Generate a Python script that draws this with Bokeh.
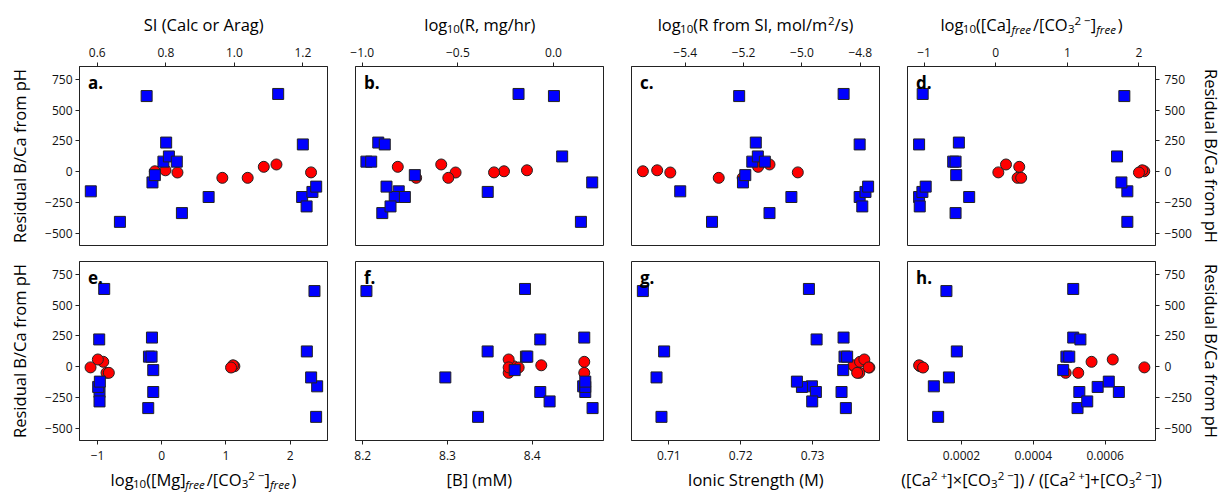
from bokeh.plotting import figure
from bokeh.layouts import column, row
from bokeh.models import Label, FixedTicker, Range1d, CustomJSTickFormatter
from bokeh.embed import file_html
from bokeh.resources import INLINE
from bokeh.core.validation import silence
from bokeh.core.validation.warnings import MISSING_RENDERERS

silence(MISSING_RENDERERS, True)

FONT = "Open Sans"

# ---------------- data ----------------
resid_blue = [-157, -404, 613, -85, -26, 237, 83, 125, 83, -333, -203, 630, 222, -203, -279, -162, -119]
resid_red = [5, 13, -5, -48, -48, 41, 60, -4]

si_blue = [0.581, 0.666, 0.744, 0.761, 0.768, 0.801, 0.793, 0.809, 0.832, 0.847, 0.925, 1.128, 1.200, 1.198, 1.211, 1.228, 1.239]
si_red = [0.768, 0.799, 0.834, 0.965, 1.039, 1.086, 1.123, 1.224]

logR_blue = [-0.809, 0.143, 0.002, 0.202, -0.725, -0.916, -0.978, 0.045, -0.953, -0.895, -0.830, -0.183, -0.882, -0.777, -0.852, -0.344, -0.873]
logR_red = [-0.259, -0.139, -0.512, -0.718, -0.550, -0.814, -0.587, -0.311]

logRsi_blue = [-5.417, -5.308, -5.215, -5.202, -5.194, -5.158, -5.170, -5.151, -5.127, -5.111, -5.036, -4.857, -4.802, -4.802, -4.793, -4.782, -4.773]
logRsi_red = [-5.545, -5.496, -5.451, -5.285, -5.203, -5.150, -5.111, -5.014]

caco3_blue = [1.838, 1.838, 1.796, 1.755, -0.551, -0.514, -0.593, 1.694, -0.560, -0.560, -0.370, -1.019, -1.069, -1.069, -1.060, -1.023, -0.977]
caco3_red = [2.074, 2.046, 2.000, 0.306, 0.356, 0.329, 0.144, 0.037]

mgco3_blue = [2.422, 2.406, 2.380, 2.328, -0.132, -0.152, -0.199, 2.261, -0.158, -0.210, -0.132, -0.896, -0.974, -0.969, -0.969, -0.990, -0.964]
mgco3_red = [1.132, 1.111, 1.080, -0.860, -0.824, -0.911, -0.995, -1.109]

boron_blue = [8.4600, 8.3360, 8.2043, 8.2974, 8.3792, 8.4613, 8.3925, 8.3473, 8.3941, 8.4711, 8.4094, 8.3914, 8.4094, 8.4625, 8.4204, 8.4625, 8.4625]
boron_red = [8.378, 8.4106, 8.3839, 8.3721, 8.4613, 8.4613, 8.3721, 8.3721]

ionic_blue = [0.72991, 0.70898, 0.70639, 0.70829, 0.73426, 0.73431, 0.73444, 0.70935, 0.73481, 0.73463, 0.73046, 0.72949, 0.73056, 0.73403, 0.72995, 0.72852, 0.72782]
ionic_red = [0.7358, 0.7357, 0.7379, 0.7365, 0.7362, 0.7366, 0.7372, 0.7378]

ratio_blue = [0.000123, 0.000135, 0.000158, 0.000165, 0.000483, 0.000511, 0.000492, 0.000187, 0.000500, 0.000523, 0.000638, 0.000511, 0.000531, 0.000528, 0.000550, 0.000579, 0.000610]
ratio_red = [0.000085, 0.000082, 0.000093, 0.000490, 0.000525, 0.000562, 0.000621, 0.000709]

y_ticks = [-500, -250, 0, 250, 500, 750]
y_label = "Residual B/Ca from pH"

MINUS = "\u2212"
CO3 = [("[CO", "n"), ("3", "sub"), ("2 " + MINUS, "sup"), ("]", "n")]

panels = [
    dict(letter="a.", xb=si_blue, xr=si_red, rng=(0.548, 1.272), ticks=[0.6, 0.8, 1.0, 1.2], dec=1,
         title=[("SI (Calc or Arag)", "n")]),
    dict(letter="b.", xb=logR_blue, xr=logR_red, rng=(-1.035, 0.261), ticks=[-1.0, -0.5, 0.0], dec=1,
         title=[("log", "n"), ("10", "sub"), ("(R, mg/hr)", "n")]),
    dict(letter="c.", xb=logRsi_blue, xr=logRsi_red, rng=(-5.584, -4.734), ticks=[-5.4, -5.2, -5.0, -4.8], dec=1,
         title=[("log", "n"), ("10", "sub"), ("(R from SI, mol/m", "n"), ("2", "sup"), ("/s)", "n")]),
    dict(letter="d.", xb=caco3_blue, xr=caco3_red, rng=(-1.231, 2.231), ticks=[-1, 0, 1, 2], dec=0,
         title=[("log", "n"), ("10", "sub"), ("([Ca]", "n"), ("free", "subi"), ("/", "n")] + CO3
               + [("free", "subi"), (")", "n")]),
    dict(letter="e.", xb=mgco3_blue, xr=mgco3_red, rng=(-1.281, 2.583), ticks=[-1, 0, 1, 2], dec=0,
         title=[("log", "n"), ("10", "sub"), ("([Mg]", "n"), ("free", "subi"), ("/", "n")] + CO3
               + [("free", "subi"), (")", "n")]),
    dict(letter="f.", xb=boron_blue, xr=boron_red, rng=(8.1914, 8.484), ticks=[8.2, 8.3, 8.4], dec=1,
         title=[("[B] (mM)", "n")]),
    dict(letter="g.", xb=ionic_blue, xr=ionic_red, rng=(0.70481, 0.73931), ticks=[0.71, 0.72, 0.73], dec=2,
         title=[("Ionic Strength (M)", "n")]),
    dict(letter="h.", xb=ratio_blue, xr=ratio_red, rng=(0.0000497, 0.00074), ticks=[0.0002, 0.0004, 0.0006], dec=4,
         title=[("([Ca", "n"), ("2 +", "sup"), ("]\u00d7", "n")] + CO3 + [(") / ([Ca", "n"), ("2 +", "sup"), ("]+", "n")]
               + CO3 + [(")", "n")]),
]

# approximate Open Sans advance widths (em)
OS = {" ": .26, "(": .29, ")": .29, ",": .245, "-": .322, ".": .266, "/": .367, "+": .572, "\u00d7": .572,
      MINUS: .572, "[": .335, "]": .335, "A": .633, "B": .648, "C": .631, "I": .30, "M": .903, "O": .781,
      "R": .634, "S": .55, "a": .556, "c": .476, "e": .561, "f": .339, "g": .50, "h": .614, "i": .253,
      "l": .253, "m": .93, "n": .614, "o": .604, "r": .408, "s": .477, "t": .353}
for d in "0123456789":
    OS[d] = .572

FW, FH = 248, 179
TITLE_SIZE = 16.5
TICK_SIZE = "12px"
MID_K = 0.388  # distance from baseline to the middle of the text box, in em

# layout geometry (pixels)
LEFT0, GAP, RIGHT_END = 79, 14, 68
TOP_STRIP, TOP_AX, MID, BOT_AX, BOT_STRIP = 37, 29, 8, 27, 25
col_w = [LEFT0 + FW + GAP, GAP + FW + GAP, GAP + FW + GAP, GAP + FW + RIGHT_END]
TOTAL_W = sum(col_w)
centers = [LEFT0 + FW / 2 + i * (FW + 2 * GAP) for i in range(4)]


def text_w(s, size):
    return sum(OS.get(c, .56) for c in s) * size


def put_text(p, x, baseline_y, text, size, style="normal", align="left"):
    p.add_layout(Label(x=x, y=baseline_y + MID_K * size, x_units="screen", y_units="screen", text=text,
                       text_font=FONT, text_font_size=f"{size:.2f}px", text_font_style=style,
                       text_align=align, text_baseline="middle", text_color="black"))


def rich(p, segs, cx, y):
    kinds = {"n": (1.0, 0.0, "normal"), "sub": (0.7, -0.18, "normal"),
             "sup": (0.7, 0.36, "normal"), "subi": (0.7, -0.18, "italic")}
    widths = [text_w(t, TITLE_SIZE * kinds[k][0]) for t, k in segs]
    x = cx - sum(widths) / 2
    for (t, k), w in zip(segs, widths):
        sc, dy, st = kinds[k]
        put_text(p, x, y + dy * TITLE_SIZE, t, TITLE_SIZE * sc, st)
        x += w


def strip(height):
    s = figure(width=TOTAL_W, height=height, min_border=0, min_border_left=0, min_border_right=0,
               min_border_top=0, min_border_bottom=0, output_backend="svg", toolbar_location=None,
               tools="", x_axis_location=None, y_axis_location=None, x_range=Range1d(0, 1),
               y_range=Range1d(0, 1), outline_line_color=None, background_fill_color="white",
               border_fill_color="white")
    s.xgrid.visible = False
    s.ygrid.visible = False
    return s


def style_axis(ax, ticks, dec, standoff):
    ax.ticker = FixedTicker(ticks=ticks, minor_ticks=[])
    ax.formatter = CustomJSTickFormatter(args=dict(d=dec), code="return tick.toFixed(d).replace('-', '\u2212');")
    ax.major_label_text_font = FONT
    ax.major_label_text_font_size = TICK_SIZE
    ax.major_label_text_color = "#111111"
    ax.major_tick_out = 4
    ax.major_tick_in = 0
    ax.major_tick_line_color = "#222222"
    ax.minor_tick_line_color = None
    ax.axis_line_color = "#222222"
    ax.major_label_standoff = standoff


top_strip = strip(TOP_STRIP)
bot_strip = strip(BOT_STRIP)

figs = []
for i, pn in enumerate(panels):
    r, c = divmod(i, 4)
    top = r == 0
    yloc = "left" if c == 0 else ("right" if c == 3 else None)
    p = figure(frame_width=FW, frame_height=FH, output_backend="svg", toolbar_location=None, tools="",
               x_range=Range1d(*pn["rng"]), y_range=Range1d(-595, 852),
               x_axis_location="above" if top else "below", y_axis_location=yloc,
               min_border_left=LEFT0 if c == 0 else GAP, min_border_right=RIGHT_END if c == 3 else GAP,
               min_border_top=TOP_AX if top else MID, min_border_bottom=MID if top else BOT_AX,
               background_fill_color="white", border_fill_color="white")
    p.xgrid.visible = False
    p.ygrid.visible = False
    p.outline_line_color = "#222222"
    p.outline_line_width = 1
    style_axis(p.xaxis[0], pn["ticks"], pn["dec"], 6)
    if yloc is not None:
        ya = p.yaxis[0]
        style_axis(ya, y_ticks, 0, 3 if c == 0 else 5)
        ya.axis_label = y_label
        ya.axis_label_text_font = FONT
        ya.axis_label_text_font_size = f"{TITLE_SIZE}px"
        ya.axis_label_text_font_style = "normal"
        ya.axis_label_text_color = "black"
        ya.axis_label_standoff = 11 if c == 0 else 5

    p.scatter(pn["xr"], resid_red, marker="circle", size=11, fill_color="#ff0000", line_color="#222222",
              line_width=1)
    p.scatter(pn["xb"], resid_blue, marker="square", size=11, fill_color="#0000ff", line_color="#222222",
              line_width=1)

    put_text(p, 8.5, FH - 22.3, pn["letter"], 17, "bold")
    if top:
        rich(top_strip, pn["title"], centers[c], TOP_STRIP - 30.5)
    else:
        rich(bot_strip, pn["title"], centers[c], BOT_STRIP - (485.4 - (492 - BOT_STRIP)))
    figs.append(p)

layout = column(top_strip, row(*figs[:4]), row(*figs[4:]), bot_strip)
open("out.html", "w").write(file_html(layout, INLINE))
